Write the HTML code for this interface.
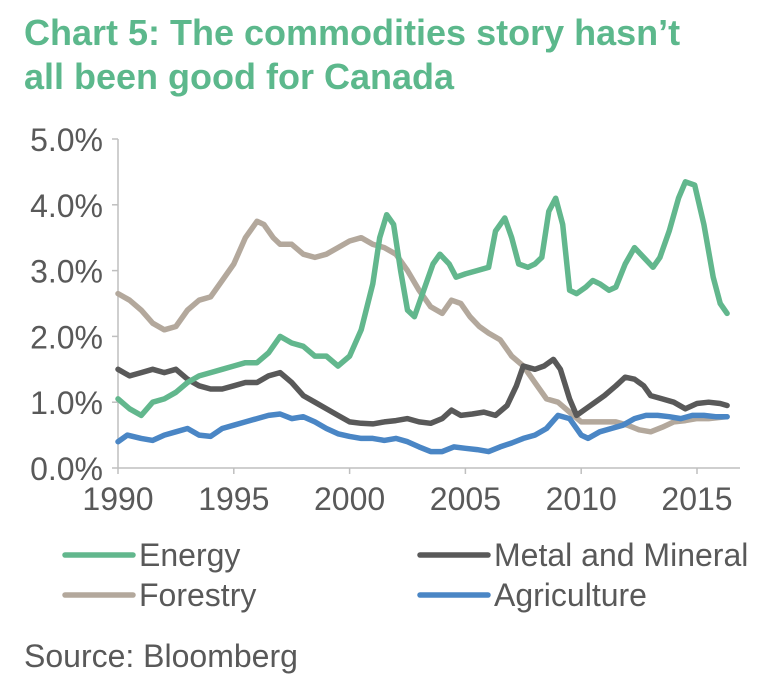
<!DOCTYPE html>
<html><head><meta charset="utf-8"><style>
body{margin:0;background:#fff;width:769px;height:688px;overflow:hidden;font-family:"Liberation Sans",sans-serif}
</style></head><body>
<svg width="769" height="688" xmlns="http://www.w3.org/2000/svg">
<text x="24" y="45" font-size="36" font-weight="bold" fill="#5cb88c">Chart 5: The commodities story hasn’t</text>
<text x="24" y="89" font-size="36" font-weight="bold" fill="#5cb88c">all been good for Canada</text>
<g id="axes"></g>
<g id="series"></g>
<g id="legend"></g>
<text x="24" y="667" font-size="32" fill="#595959">Source: Bloomberg</text>
</svg>
<script>
const yTicks=[0,1,2,3,4,5];
const xTicks=[1990,1995,2000,2005,2010,2015];
const seriesNames=["Energy","Metal and Mineral","Forestry","Agriculture"];
const energyT=[1990,1990.5,1991,1991.5,1992,1992.5,1993,1993.5,1994,1994.5,1995,1995.5,1996,1996.5,1997,1997.5,1998,1998.5,1999,1999.5,2000,2000.5,2001,2001.3,2001.6,2001.9,2002.2,2002.5,2002.8,2003.2,2003.6,2003.9,2004.3,2004.6,2005,2005.5,2006,2006.3,2006.7,2007,2007.3,2007.7,2008,2008.3,2008.6,2008.9,2009.2,2009.5,2009.8,2010.2,2010.5,2010.8,2011.2,2011.5,2011.9,2012.3,2012.7,2013.1,2013.4,2013.8,2014.2,2014.5,2014.9,2015.3,2015.7,2016,2016.3];
const energyV=[1.05,0.9,0.8,1.0,1.05,1.15,1.3,1.4,1.45,1.5,1.55,1.6,1.6,1.75,2.0,1.9,1.85,1.7,1.7,1.55,1.7,2.1,2.8,3.5,3.85,3.7,3.0,2.4,2.3,2.7,3.1,3.25,3.1,2.9,2.95,3.0,3.05,3.6,3.8,3.5,3.1,3.05,3.1,3.2,3.9,4.1,3.7,2.7,2.65,2.75,2.85,2.8,2.7,2.75,3.1,3.35,3.2,3.05,3.2,3.6,4.1,4.35,4.3,3.7,2.9,2.5,2.35];
const forestT=[1990,1990.5,1991,1991.5,1992,1992.5,1993,1993.5,1994,1994.5,1995,1995.5,1996,1996.3,1996.7,1997,1997.5,1998,1998.5,1999,1999.5,2000,2000.5,2001,2001.5,2002,2002.5,2003,2003.5,2004,2004.4,2004.8,2005.2,2005.6,2006,2006.5,2007,2007.5,2008,2008.5,2009,2009.5,2010,2010.5,2011,2011.5,2012,2012.5,2013,2013.5,2014,2014.5,2015,2015.5,2016.3];
const forestV=[2.65,2.55,2.4,2.2,2.1,2.15,2.4,2.55,2.6,2.85,3.1,3.5,3.75,3.7,3.5,3.4,3.4,3.25,3.2,3.25,3.35,3.45,3.5,3.4,3.35,3.25,3.0,2.7,2.45,2.35,2.55,2.5,2.3,2.15,2.05,1.95,1.7,1.55,1.3,1.05,1.0,0.85,0.7,0.7,0.7,0.7,0.65,0.58,0.55,0.62,0.7,0.72,0.75,0.75,0.78];
const metalT=[1990,1990.5,1991,1991.5,1992,1992.5,1993,1993.5,1994,1994.5,1995,1995.5,1996,1996.5,1997,1997.5,1998,1998.5,1999,1999.5,2000,2000.5,2001,2001.5,2002,2002.5,2003,2003.5,2004,2004.4,2004.8,2005.3,2005.8,2006.3,2006.8,2007.2,2007.5,2008,2008.4,2008.8,2009.1,2009.5,2009.8,2010.2,2010.6,2011,2011.5,2011.9,2012.3,2012.7,2013,2013.5,2014,2014.5,2015,2015.5,2016,2016.3];
const metalV=[1.5,1.4,1.45,1.5,1.45,1.5,1.35,1.25,1.2,1.2,1.25,1.3,1.3,1.4,1.45,1.3,1.1,1.0,0.9,0.8,0.7,0.68,0.67,0.7,0.72,0.75,0.7,0.68,0.75,0.88,0.8,0.82,0.85,0.8,0.95,1.25,1.55,1.5,1.55,1.65,1.5,1.05,0.8,0.9,1.0,1.1,1.25,1.38,1.35,1.25,1.1,1.05,1.0,0.9,0.98,1.0,0.98,0.95];
const agriT=[1990,1990.4,1991,1991.5,1992,1992.5,1993,1993.5,1994,1994.5,1995,1995.5,1996,1996.5,1997,1997.5,1998,1998.5,1999,1999.5,2000,2000.5,2001,2001.5,2002,2002.5,2003,2003.5,2004,2004.5,2005,2005.5,2006,2006.5,2007,2007.5,2008,2008.5,2009,2009.5,2010,2010.3,2010.8,2011.3,2011.8,2012.3,2012.8,2013.3,2013.8,2014.3,2014.8,2015.3,2015.8,2016.3];
const agriV=[0.4,0.5,0.45,0.42,0.5,0.55,0.6,0.5,0.48,0.6,0.65,0.7,0.75,0.8,0.82,0.75,0.78,0.7,0.6,0.52,0.48,0.45,0.45,0.42,0.45,0.4,0.32,0.25,0.25,0.32,0.3,0.28,0.25,0.32,0.38,0.45,0.5,0.6,0.8,0.75,0.5,0.45,0.55,0.6,0.65,0.75,0.8,0.8,0.78,0.75,0.8,0.8,0.78,0.78];
const NS="http://www.w3.org/2000/svg";
const X=t=>118+(t-1990)*23.16;
const Y=v=>468-v*65.8;
function mk(tag,attrs,parent){const e=document.createElementNS(NS,tag);for(const k in attrs)e.setAttribute(k,attrs[k]);parent.appendChild(e);return e;}
const axes=document.getElementById('axes');
let yl=mk('line',{x1:118,y1:Y(5),x2:118,y2:Y(0),stroke:'#bfbfbf','stroke-width':1.5},axes);


let xl=mk('line',{x1:118,y1:Y(0),x2:740,y2:Y(0),stroke:'#bfbfbf','stroke-width':1.5},axes);


yTicks.forEach(v=>{
 mk('line',{x1:112,y1:Y(v),x2:118,y2:Y(v),stroke:'#bfbfbf','stroke-width':1.5},axes);
 const t=mk('text',{x:103,y:Y(v)+12,'font-size':32,fill:'#595959','text-anchor':'end'},axes);
 t.textContent=v.toFixed(1)+'%';
 
 
});
xTicks.forEach(v=>{
 mk('line',{x1:X(v),y1:Y(0),x2:X(v),y2:Y(0)+6,stroke:'#bfbfbf','stroke-width':1.5},axes);
 const t=mk('text',{x:X(v),y:510,'font-size':32,fill:'#595959','text-anchor':'middle'},axes);
 t.textContent=v;
 
 
});
const sg=document.getElementById('series');
function line(T,V,color,name){
 const d=T.map((t,i)=>(i?'L':'M')+X(t).toFixed(1)+','+Y(V[i]).toFixed(1)).join('');
 const p=mk('path',{d:d,fill:'none',stroke:color,'stroke-width':5.5,'stroke-linejoin':'round','stroke-linecap':'round'},sg);
 
 
}
line(forestT,forestV,'#b3a89c','forestry-line');
line(agriT,agriV,'#4a86c5','agriculture-line');
line(metalT,metalV,'#595959','metal-mineral-line');
line(energyT,energyV,'#62b78d','energy-line');
const lg=document.getElementById('legend');
const lgItems=[[65,555,'#62b78d',0],[420,555,'#595959',1],[65,595,'#b3a89c',2],[420,595,'#4a86c5',3]];
lgItems.forEach(([x,y,c,i])=>{
 const l=mk('line',{x1:x,y1:y,x2:x+68,y2:y,stroke:c,'stroke-width':5.5,'stroke-linecap':'round'},lg);
 
 
 const t=mk('text',{x:x+74,y:y+11,'font-size':32,fill:'#595959'},lg);
 t.textContent=seriesNames[i];
 
 
});
</script>
</body></html>
